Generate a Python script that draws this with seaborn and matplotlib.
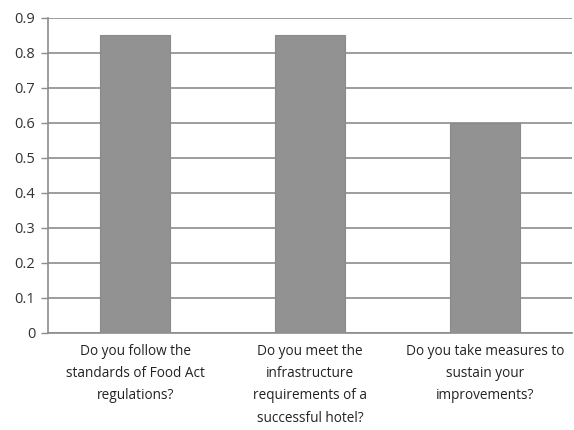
import seaborn as sns
import matplotlib.pyplot as plt

# Survey questions and share of positive answers
questions = [
    "Do you follow the\nstandards of Food Act\nregulations?",
    "Do you meet the\ninfrastructure\nrequirements of a\nsuccessful hotel?",
    "Do you take measures to\nsustain your\nimprovements?",
]
values = [0.85, 0.85, 0.60]
yticks = [0, 0.1, 0.2, 0.3, 0.4, 0.5, 0.6, 0.7, 0.8, 0.9]

sns.set_style("white")
plt.rcParams['font.family'] = ['Open Sans', 'DejaVu Sans']

fig = plt.figure(figsize=(5.74, 4.30), dpi=100)
ax = fig.add_axes([0.0836, 0.2256, 0.913, 0.7326])

sns.barplot(x=questions, y=values, color="#929292", width=0.4,
            edgecolor="#8a8a8a", linewidth=0.8, saturation=1, ax=ax, zorder=3)

ax.set_xlim(-0.5, 2.5)
ax.set_ylim(0, 0.9)
ax.set_yticks(yticks)
ax.set_yticklabels([f"{t:g}" for t in yticks], fontsize=10.5, color="#333333")
ax.yaxis.grid(True, color="#8c8c8c", linewidth=1.2, zorder=0)
ax.set_axisbelow(True)

ax.set_xticks([0, 1, 2])
ax.set_xticklabels(questions, fontsize=9.8, color="#222222", linespacing=1.65)
ax.set_xticks([-0.5, 0.5, 1.5, 2.5], minor=True)
ax.tick_params(axis='x', which='major', length=0, pad=8)
ax.tick_params(axis='x', which='minor', length=5, color="#8c8c8c", width=1)
ax.tick_params(axis='y', length=5, color="#8c8c8c", width=1, left=True, pad=4)

for side in ["top", "right"]:
    ax.spines[side].set_visible(False)
for side in ["left", "bottom"]:
    ax.spines[side].set_color("#8c8c8c")
    ax.spines[side].set_linewidth(1.2)

fig.savefig("out.png", dpi=100)
